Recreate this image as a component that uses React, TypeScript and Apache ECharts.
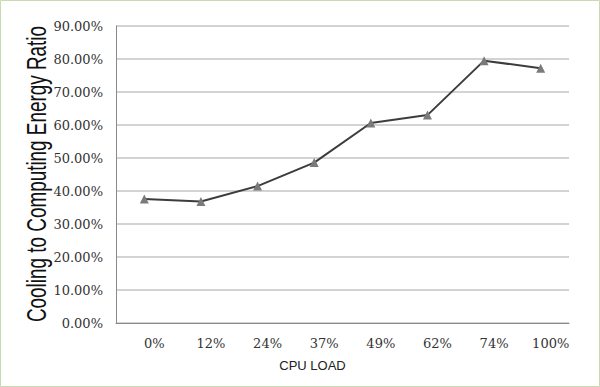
import React, { useEffect, useRef } from "react";
import * as echarts from "echarts";

const categories = ["0%", "12%", "24%", "37%", "49%", "62%", "74%", "100%"];
const ratioValues = [0.376, 0.368, 0.415, 0.486, 0.606, 0.630, 0.795, 0.772];
const yTicks = { min: 0, max: 0.9, interval: 0.1 };
const yAxisTitle = "Cooling to Computing Energy Ratio";
const xAxisTitle = "CPU LOAD";

export default function App() {
  const ref = useRef<HTMLDivElement>(null);
  useEffect(() => {
    const chart = echarts.init(ref.current!, null, { renderer: "svg" });
    chart.setOption({
      animation: false,
      backgroundColor: "#ffffff",
      grid: { left: 116, right: 31, top: 26, bottom: 64 },
      graphic: [
        {
          type: "rect",
          shape: { x: 0.5, y: 0.5, width: 599, height: 386 },
          style: { fill: "none", stroke: "#c9d9b0", lineWidth: 1 },
          silent: true,
        },
        {
          type: "text",
          x: 36,
          y: 174,
          rotation: Math.PI / 2,
          scaleX: 0.675,
          style: {
            text: yAxisTitle,
            fill: "#111",
            fontSize: 28,
            fontFamily: "Liberation Sans",
            align: "center",
            verticalAlign: "middle",
          },
        },
      ],
      xAxis: {
        type: "category",
        data: categories,
        boundaryGap: true,
        name: xAxisTitle,
        nameLocation: "middle",
        nameGap: 36,
        nameTextStyle: {
          color: "#222",
          fontSize: 13,
          fontFamily: "Liberation Sans",
          padding: [0, 60, 0, 0],
        },
        axisLine: { lineStyle: { color: "#8a8a8a", width: 1 } },
        axisTick: { show: false },
        axisLabel: {
          color: "#333",
          fontSize: 13,
          fontFamily: "DejaVu Serif",
          margin: 14,
          padding: [0, 0, 0, 20],
        },
      },
      yAxis: {
        type: "value",
        min: yTicks.min,
        max: yTicks.max,
        interval: yTicks.interval,
        axisLine: { show: true, lineStyle: { color: "#8a8a8a", width: 1 } },
        axisTick: { show: false },
        splitLine: { lineStyle: { color: "#c4c4c4", width: 1.5 } },
        axisLabel: {
          color: "#333",
          fontSize: 13,
          fontFamily: "DejaVu Serif",
          margin: 13,
          formatter: (v: number) => (v * 100).toFixed(2) + "%",
        },
      },
      series: [
        {
          type: "line",
          data: ratioValues,
          symbol: "triangle",
          symbolSize: 9,
          itemStyle: { color: "#7a7a7a" },
          lineStyle: { color: "#3c3c3c", width: 2 },
        },
      ],
    });
    return () => chart.dispose();
  }, []);
  return (
    <div
      ref={ref}
      style={{ position: "absolute", left: 0, top: 0, width: 600, height: 387 }}
    />
  );
}
